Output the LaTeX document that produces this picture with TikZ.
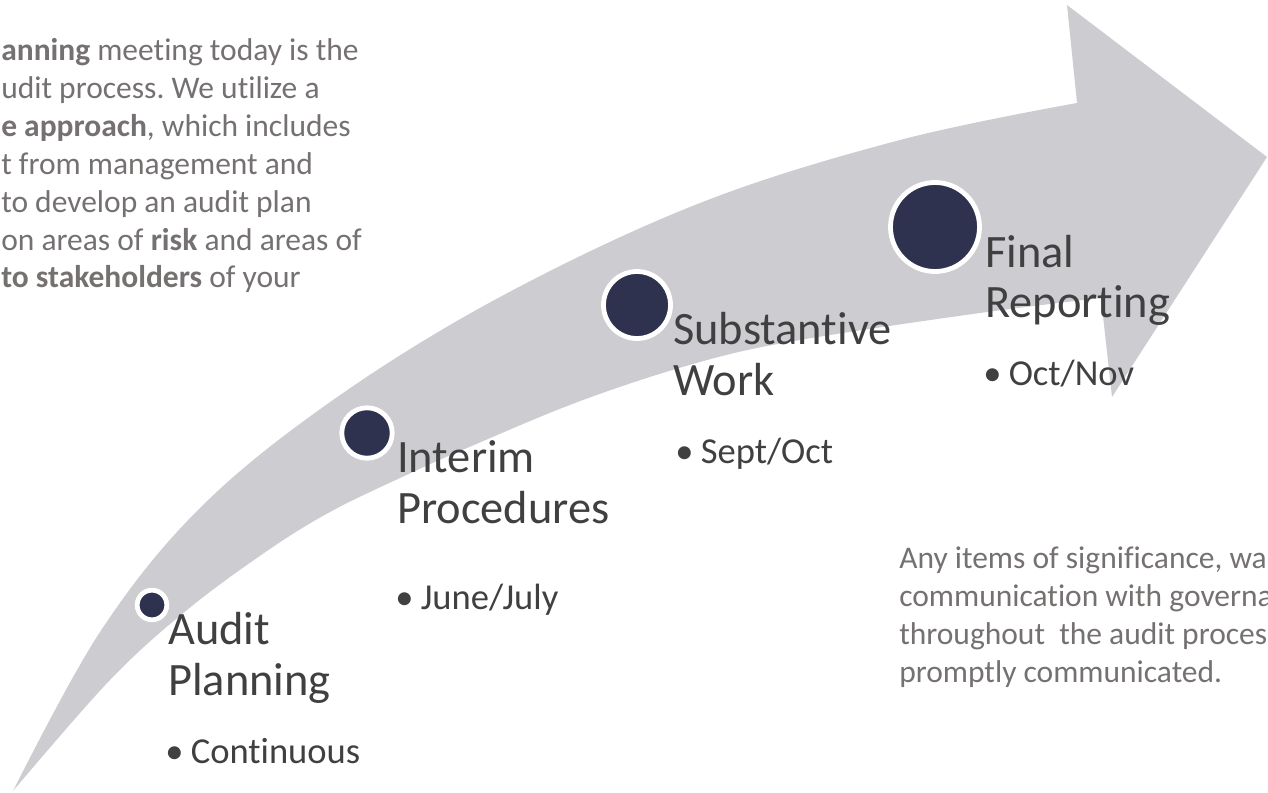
\documentclass[tikz,border=0pt]{standalone}
\usepackage{fontspec}
\setmainfont{Carlito}[Ligatures={NoCommon}]
\frenchspacing

\definecolor{arrowgrey}{RGB}{205,205,209}
\definecolor{dotnavy}{RGB}{46,50,78}
\definecolor{labelgrey}{RGB}{64,64,64}
\definecolor{paragrey}{RGB}{118,113,113}

\tikzset{
	stepdot/.style={circle, fill=dotnavy, draw=white, line width=0.12cm, inner sep=0pt, minimum size=#1},
	steptitle/.style={anchor=base west, inner sep=0pt, align=left, text=labelgrey, font=\fontsize{33}{35.6}\selectfont},
	stepdate/.style={anchor=base west, inner sep=0pt, text=labelgrey, font=\fontsize{26}{30}\selectfont},
	notetext/.style={anchor=base west, inner sep=0pt, align=left, text=paragrey, font=\fontsize{22.4}{27}\selectfont}
}

\begin{document}
\begin{tikzpicture}[x=0.025cm, y=-0.025cm]
		\useasboundingbox (0,0) rectangle (1268,793);

		% the big curved arrow
		\fill[arrowgrey] plot[smooth, tension=0.6] coordinates {(13,791) (100,632) (200,508) (333,400) (500,297) (700,203) (900,140) (1077,103)}
			-- (1067,5) -- (1267,157) -- (1112,397)
			-- plot[smooth, tension=0.6] coordinates {(1101,298) (980,313) (800,340) (700,362) (583,400) (467,448) (400,478) (330,512) (267,551) (187,610) (110,680) (13,791)} -- cycle;

		% steps
		\draw (152,605) node[stepdot=0.74cm] (dot1) {};
		\draw (367,433) node[stepdot=1.26cm] (dot2) {};
		\draw (637,305) node[stepdot=1.675cm] (dot3) {};
		\draw (935,227) node[stepdot=2.225cm] (dot4) {};

		% (base anchor sits on the last line)
		\draw (168,695) node[steptitle] (title1) {Audit\\Planning};
		\draw (165,763) node[stepdate] (date1) {\textbullet\hspace{0.2em}Continuous};
		\draw (397,523) node[steptitle] (title2) {Interim\\Procedures};
		\draw (395,609) node[stepdate] (date2) {\textbullet\hspace{0.2em}June/July};
		\draw (673,395) node[steptitle] (title3) {Substantive\\Work};
		\draw (675,463) node[stepdate] (date3) {\textbullet\hspace{0.2em}Sept/Oct};
		\draw (985,318) node[steptitle] (title4) {Final\\Reporting};
		\draw (983,385) node[stepdate] (date4) {\textbullet\hspace{0.2em}Oct/Nov};

		% notes
		\draw (1,288) node[notetext] (plannote) {\textbf{anning} meeting today is the\\udit process. We utilize a\\\textbf{e approach}, which includes\\t from management and\\to develop an audit plan\\on areas of \textbf{risk} and areas of\\\textbf{to stakeholders} of your};
		\draw (899,682) node[notetext] (commnote) {Any items of significance, wa\\communication with governa\\throughout\ \ the audit proces\\promptly communicated.};
	\end{tikzpicture}
\end{document}
